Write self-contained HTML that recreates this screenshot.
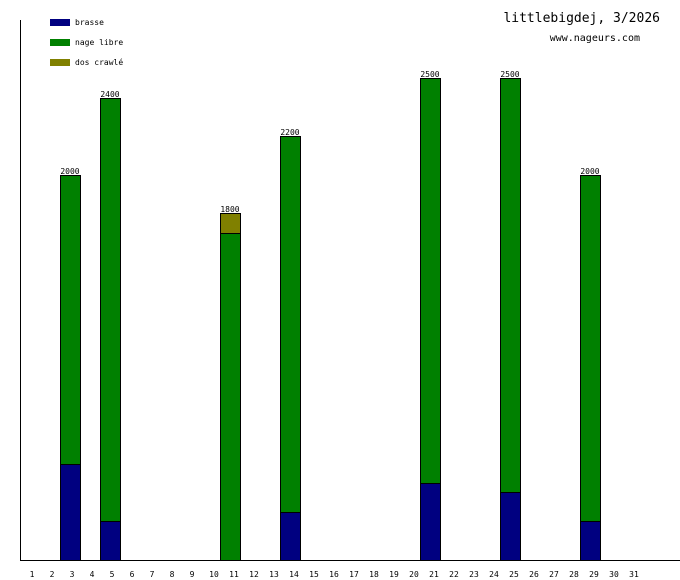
<!DOCTYPE html><html><head><style>body{margin:0;background:#fff}svg{display:block}text{font-family:"DejaVu Sans Mono","Liberation Mono",monospace}</style></head><body>
<svg width="680" height="580" xmlns="http://www.w3.org/2000/svg">
<line x1="20.5" y1="20" x2="20.5" y2="560" stroke="#000"/>
<line x1="20" y1="560.5" x2="680" y2="560.5" stroke="#000"/>
<rect x="50" y="19" width="20" height="7" fill="#000080"/><text x="75" y="25" font-size="8">brasse</text>
<rect x="50" y="39" width="20" height="7" fill="#008000"/><text x="75" y="45" font-size="8">nage libre</text>
<rect x="50" y="59" width="20" height="7" fill="#808000"/><text x="75" y="65" font-size="8">dos crawlé</text>
<text x="660" y="22" font-size="13" text-anchor="end">littlebigdej, 3/2026</text>
<text x="640" y="41" font-size="10" text-anchor="end">www.nageurs.com</text>
<g stroke="#000" stroke-width="1">
<rect x="60.5" y="175.5" width="20" height="289" fill="#008000"/><rect x="60.5" y="464.5" width="20" height="96" fill="#000080"/>
<rect x="100.5" y="98.5" width="20" height="423" fill="#008000"/><rect x="100.5" y="521.5" width="20" height="39" fill="#000080"/>
<rect x="220.5" y="213.5" width="20" height="20" fill="#808000"/><rect x="220.5" y="233.5" width="20" height="327" fill="#008000"/>
<rect x="280.5" y="136.5" width="20" height="376" fill="#008000"/><rect x="280.5" y="512.5" width="20" height="48" fill="#000080"/>
<rect x="420.5" y="78.5" width="20" height="405" fill="#008000"/><rect x="420.5" y="483.5" width="20" height="77" fill="#000080"/>
<rect x="500.5" y="78.5" width="20" height="414" fill="#008000"/><rect x="500.5" y="492.5" width="20" height="68" fill="#000080"/>
<rect x="580.5" y="175.5" width="20" height="346" fill="#008000"/><rect x="580.5" y="521.5" width="20" height="39" fill="#000080"/>
</g>
<g font-size="8" text-anchor="middle">
<text x="70" y="174">2000</text><text x="110" y="97">2400</text><text x="230" y="212">1800</text><text x="290" y="135">2200</text><text x="430" y="77">2500</text><text x="510" y="77">2500</text><text x="590" y="174">2000</text>
</g>
<g font-size="8" text-anchor="middle">
<text x="32" y="577">1</text><text x="52" y="577">2</text><text x="72" y="577">3</text><text x="92" y="577">4</text><text x="112" y="577">5</text><text x="132" y="577">6</text><text x="152" y="577">7</text><text x="172" y="577">8</text><text x="192" y="577">9</text><text x="214" y="577">10</text><text x="234" y="577">11</text><text x="254" y="577">12</text><text x="274" y="577">13</text><text x="294" y="577">14</text><text x="314" y="577">15</text><text x="334" y="577">16</text><text x="354" y="577">17</text><text x="374" y="577">18</text><text x="394" y="577">19</text><text x="414" y="577">20</text><text x="434" y="577">21</text><text x="454" y="577">22</text><text x="474" y="577">23</text><text x="494" y="577">24</text><text x="514" y="577">25</text><text x="534" y="577">26</text><text x="554" y="577">27</text><text x="574" y="577">28</text><text x="594" y="577">29</text><text x="614" y="577">30</text><text x="634" y="577">31</text>
</g>
</svg></body></html>
